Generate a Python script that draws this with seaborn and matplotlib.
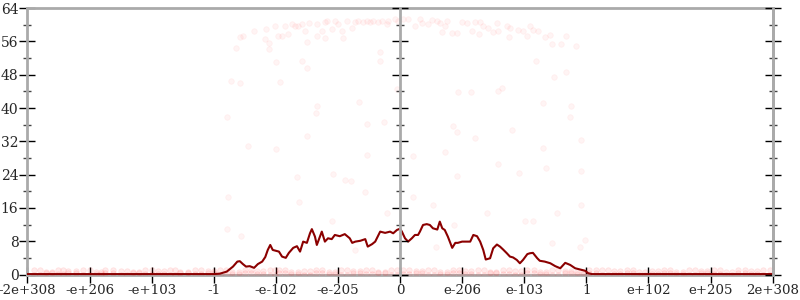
import matplotlib
matplotlib.use("Agg")
import matplotlib.pyplot as plt
import seaborn as sns
import pandas as pd
from matplotlib.ticker import MultipleLocator, FixedLocator

# ---- data (x in axis-tick units, y in bits of error) ----
tick_labels = ["-2e+308", "-e+206", "-e+103", "-1", "-e-102", "-e-205", "0",
               "e-206", "e-103", "1", "e+102", "e+205", "2e+308"]
tick_pos = [-6, -5, -4, -3, -2, -1, 0, 1, 2, 3, 4, 5, 6]

line_x = [-6.0, -5.0, -4.0, -3.22, -3.0, -2.90, -2.79, -2.69, -2.62, -2.58, -2.53, -2.48,
          -2.42, -2.35, -2.29, -2.22, -2.17, -2.13, -2.09, -2.05, -2.00, -1.95, -1.90,
          -1.84, -1.79, -1.72, -1.66, -1.61, -1.56, -1.50, -1.45, -1.42, -1.37, -1.34,
          -1.29, -1.26, -1.21, -1.16, -1.10, -1.05, -0.97, -0.89, -0.81, -0.77, -0.72,
          -0.64, -0.56, -0.52, -0.45, -0.40, -0.32, -0.24, -0.16, -0.11, -0.05, 0.0,
          0.03, 0.08, 0.13, 0.19, 0.24, 0.29, 0.32, 0.37, 0.43, 0.48, 0.53, 0.60, 0.64,
          0.68, 0.72, 0.77, 0.84, 0.89, 0.93, 1.00, 1.08, 1.13, 1.18, 1.24, 1.29, 1.34,
          1.38, 1.45, 1.50, 1.56, 1.61, 1.66, 1.72, 1.77, 1.82, 1.88, 1.93, 1.98, 2.05,
          2.09, 2.14, 2.21, 2.25, 2.33, 2.42, 2.50, 2.58, 2.66, 2.74, 2.82, 2.90, 2.98,
          3.03, 3.09, 4.0, 5.0, 6.0]
line_y = [0.1, 0.1, 0.1, 0.1, 0.1, 0.2, 0.7, 1.9, 3.1, 3.2, 2.5, 1.9,
          2.0, 1.6, 2.5, 3.1, 4.2, 5.9, 7.1, 5.9, 5.7, 5.5, 4.3,
          4.0, 5.2, 6.4, 6.8, 5.5, 7.9, 7.6, 9.9, 10.9, 9.1, 7.1,
          9.1, 10.3, 7.9, 8.7, 8.5, 9.5, 9.2, 9.7, 8.7, 7.6, 7.9,
          8.1, 8.5, 6.7, 7.3, 7.9, 10.3, 10.0, 10.3, 9.9, 10.7, 11.0,
          10.3, 8.7, 7.9, 8.7, 9.5, 9.5, 10.3, 11.9, 12.1, 11.9, 11.1, 10.8, 12.7,
          11.1, 10.7, 9.1, 6.4, 7.6, 7.6, 7.9, 7.9, 7.9, 9.5, 9.2, 7.9, 5.9,
          3.6, 3.9, 6.3, 7.2, 6.7, 6.0, 5.1, 4.3, 4.1, 3.5, 2.7, 3.5, 4.9,
          5.1, 5.2, 3.9, 3.3, 3.1, 2.7, 2.0, 1.5, 2.8, 2.3, 1.5, 1.2, 0.9,
          0.3, 0.1, 0.1, 0.1, 0.1]

pts_x = [-2.58, -2.53, -2.64, -2.35, -2.16, -2.17, -2.11, -2.11, -2.01, -1.96, -1.90, -1.85,
         -1.80, -1.74, -1.69, -1.64, -1.58, -1.53, -1.50, -1.47, -1.34, -1.34, -1.26, -1.21,
         -1.18, -1.21, -1.10, -1.05, -1.00, -0.93, -0.92, -0.85, -0.77, -0.72, -0.68, -0.60,
         -0.53, -0.48, -0.43, -0.35, -0.29, -0.21, -0.19, -0.08, -0.03,
         0.05, 0.13, 0.24, 0.32, 0.35, 0.45, 0.52, 0.60, 0.64, 0.68, 0.72, 0.76, 0.84, 0.92,
         1.00, 1.08, 1.16, 1.21, 1.27, 1.29, 1.34, 1.42, 1.50, 1.56, 1.58, 1.72, 1.76, 1.77,
         1.90, 1.98, 2.05, 2.09, 2.14, 2.22, 2.33, 2.42, 2.45, 2.59, 2.67, 2.83,
         -0.32, -0.32, -2.00, -1.58, -1.50, -2.72, -2.58, -1.93, -1.34, -1.35, -0.66, -2.79,
         -0.53, -0.26, -1.50, -2.45, -2.00, -0.05, 2.19, 2.67, 2.48, 0.93, 1.14, 1.58, 1.64,
         2.30, 2.75, 2.74, 0.85, 0.92, 1.21, 1.80, 2.30, 2.91,
         -1.66, -1.08, -0.89, -0.79, -0.53, -0.56, -1.63, -2.77, -1.10, -0.21, -2.79, -2.56,
         -0.72, 0.21, 0.72, 1.58, 1.92, 2.35, 2.91, 0.92, 0.21, 0.53, 1.40, 2.53, 2.91, 0.87,
         2.01, 2.14, 2.45, 2.98, 2.90, 0.58]
pts_y = [57.0, 57.2, 54.3, 58.5, 58.9, 56.5, 55.5, 54.1, 59.6, 57.2, 57.4, 59.6,
         57.7, 60.1, 59.8, 59.8, 60.1, 58.6, 55.8, 60.4, 60.2, 57.3, 58.6, 60.6,
         60.8, 56.7, 58.9, 60.9, 60.1, 58.6, 56.7, 60.9, 59.1, 60.6, 61.0, 60.6,
         61.0, 60.6, 61.0, 60.6, 61.0, 60.1, 61.0, 61.3, 60.9,
         61.4, 61.3, 59.6, 61.4, 60.4, 60.1, 61.2, 60.9, 60.4, 58.2, 59.6, 60.9, 58.0, 58.0,
         60.6, 60.4, 58.6, 60.6, 57.8, 60.6, 59.8, 59.3, 58.2, 60.4, 58.6, 59.6, 57.0, 59.3,
         58.8, 58.6, 57.4, 59.6, 58.8, 58.6, 57.0, 57.6, 55.3, 55.3, 57.4, 54.8,
         53.4, 51.4, 51.0, 51.4, 49.5, 46.4, 45.9, 46.2, 40.4, 38.7, 41.4, 37.8,
         36.1, 36.6, 33.2, 30.9, 30.1, 44.5, 51.4, 48.6, 47.4, 43.8, 43.8, 44.2, 44.7,
         41.1, 40.4, 37.8, 35.7, 34.2, 32.8, 34.8, 30.4, 32.4,
         23.5, 24.1, 22.7, 22.5, 28.7, 19.9, 17.5, 18.5, 12.9, 14.8, 10.9, 9.2,
         5.9, 28.4, 29.4, 26.5, 24.5, 25.7, 24.9, 23.6, 18.7, 16.7, 14.8, 14.8, 16.7, 11.9,
         12.9, 12.9, 7.6, 8.4, 6.5, 6.7]

band_x = [-5.9, -5.7, -5.5, -5.35, -5.1, -4.9, -4.75, -4.5, -4.3, -4.1, -3.9, -3.7,
          -3.55, -3.3, -3.1, -2.9, -2.7, -2.5, -2.3, -2.1, -1.95, -1.75, -1.55, -1.35,
          -1.15, -0.95, -0.75, -0.55, -0.35, -0.15, 0.05, 0.25, 0.45, 0.65, 0.85, 1.05,
          1.25, 1.45, 1.65, 1.85, 2.05, 2.25, 2.45, 2.65, 2.85, 3.05, 3.25, 3.45, 3.65,
          3.85, 4.05, 4.25, 4.45, 4.65, 4.85, 5.05, 5.25, 5.45, 5.65, 5.85]
band_x2 = [-5.8, -5.6, -5.42, -5.22, -5.0, -4.82, -4.62, -4.4, -4.2, -4.0, -3.8, -3.62,
           -3.42, -3.2, -3.0, -2.8, -2.6, -2.4, -2.2, -2.02, -1.85, -1.65, -1.45, -1.25,
           -1.05, -0.85, -0.65, -0.45, -0.25, -0.05, 0.15, 0.35, 0.55, 0.75, 0.95, 1.15,
           1.35, 1.55, 1.75, 1.95, 2.15, 2.35, 2.55, 2.75, 2.95, 3.15, 3.35, 3.55, 3.75,
           3.95, 4.15, 4.35, 4.55, 4.75, 4.95, 5.15, 5.35, 5.55, 5.75, 5.95]
band_hi = [1.1, 0.7, 1.2, 0.8, 1.0, 0.6, 1.2, 0.9, 0.7, 1.1, 0.8, 1.2,
           0.6, 1.0, 0.9, 1.2, 0.7, 1.1, 0.8, 1.0, 1.2, 0.6, 0.9, 1.1,
           0.7, 1.2, 0.8, 1.0, 0.6, 1.1, 1.2, 0.8, 1.0, 0.7, 1.1, 0.9,
           1.2, 0.6, 1.0, 0.8, 1.1, 0.7, 1.2, 0.9, 0.6, 1.0, 1.2, 0.8, 1.1,
           0.7, 0.9, 1.2, 0.6, 1.0, 0.8, 1.1, 0.7, 1.2, 0.9, 1.0]
band_lo = [0.0, 0.3, 0.1, 0.4, 0.0, 0.2, 0.3, 0.0, 0.4, 0.1, 0.2, 0.0,
           0.3, 0.1, 0.4, 0.0, 0.2, 0.3, 0.1, 0.0, 0.4, 0.2, 0.0, 0.3,
           0.1, 0.0, 0.4, 0.2, 0.3, 0.0, 0.1, 0.4, 0.0, 0.2, 0.3, 0.1,
           0.0, 0.4, 0.2, 0.0, 0.3, 0.1, 0.0, 0.4, 0.2, 0.3, 0.0, 0.1, 0.4,
           0.0, 0.2, 0.3, 0.1, 0.0, 0.4, 0.2, 0.0, 0.3, 0.1, 0.0]

sns.set_style("white")
plt.rcParams["font.family"] = ["DejaVu Serif"]

fig = plt.figure(figsize=(8, 3), dpi=100)
ax = fig.add_axes([0.0343, 0.085, 0.9315, 0.888])

scatter_df = pd.DataFrame({"x": pts_x, "y": pts_y})
sns.scatterplot(data=scatter_df, x="x", y="y", ax=ax, color="#ff0000", alpha=0.045,
                s=16, edgecolor="#ff0000", linewidth=0.6, zorder=2)

band_df = pd.DataFrame({"x": band_x + band_x + band_x2 + band_x2,
                        "y": band_hi + band_lo + band_lo + band_hi})
sns.scatterplot(data=band_df, x="x", y="y", ax=ax, color="#ff0000", alpha=0.08,
                s=16, edgecolor="#ff0000", linewidth=0.6, zorder=2)

line_df = pd.DataFrame({"x": line_x, "y": line_y})
sns.lineplot(data=line_df, x="x", y="y", ax=ax, color="#8b0000", lw=1.5, zorder=3,
             estimator=None, sort=False)

ax.set_xlim(-6, 6)
ax.set_ylim(0, 64)
ax.set_xlabel("")
ax.set_ylabel("")

ax.xaxis.set_major_locator(FixedLocator(tick_pos))
ax.set_xticklabels(tick_labels)
ax.yaxis.set_major_locator(MultipleLocator(8))
ax.yaxis.set_minor_locator(MultipleLocator(4))

for s in ["left", "right", "top", "bottom"]:
    ax.spines[s].set_visible(True)
    ax.spines[s].set_color("#aaaaaa")
    ax.spines[s].set_linewidth(2)
ax.spines["bottom"].set_zorder(1)

ax.tick_params(axis="y", which="major", direction="inout", length=11, width=1,
               color="black", labelsize=10, pad=1, left=True)
ax.tick_params(axis="y", which="minor", direction="inout", length=6, width=1,
               color="#444444", left=True)
ax.tick_params(axis="x", which="major", direction="inout", length=12, width=1,
               color="black", labelsize=9.6, pad=1, bottom=True)

# right axis and center axis ticks
for pos in [1.0, 0.5]:
    tw = ax.twinx()
    tw.set_ylim(0, 64)
    for s in ["left", "top", "bottom"]:
        tw.spines[s].set_visible(False)
    tw.spines["right"].set_position(("axes", pos))
    tw.spines["right"].set_color("#aaaaaa")
    tw.spines["right"].set_linewidth(2)
    tw.yaxis.set_major_locator(MultipleLocator(8))
    tw.yaxis.set_minor_locator(MultipleLocator(4))
    tw.tick_params(axis="y", which="major", direction="inout", length=11, width=1,
                   color="black", labelright=False, right=True)
    tw.tick_params(axis="y", which="minor", direction="inout", length=6, width=1,
                   color="#444444", right=True)
    tw.grid(False)

ax.grid(False)
fig.savefig("out.png", dpi=100)
